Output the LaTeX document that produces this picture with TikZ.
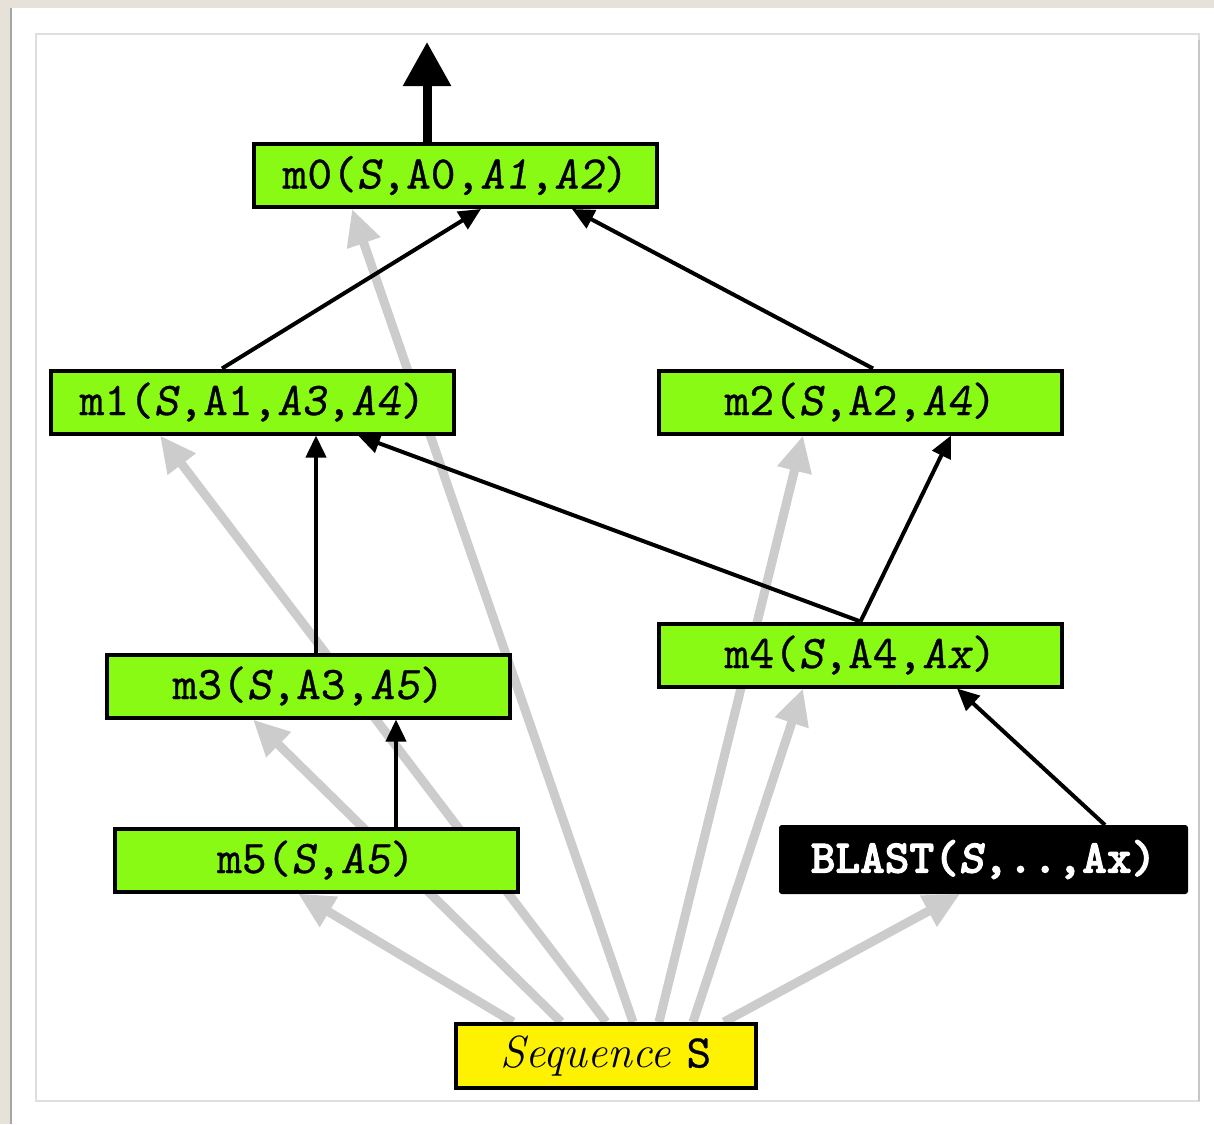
\documentclass[tikz,border=0pt]{standalone}
\usepackage{fontspec}
\setmonofont{lmmono10-regular.otf}[
  SlantedFont=lmmonoslant10-regular.otf,
  BoldFont=lmmonolt10-bold.otf,
  BoldSlantedFont=lmmonolt10-boldoblique.otf,
  UprightFeatures={FakeBold=0.6},
  SlantedFeatures={FakeBold=0.6},
  BoldFeatures={FakeBold=2.2},
  BoldSlantedFeatures={FakeBold=2.2}]
\usetikzlibrary{arrows.meta,calc}
\definecolor{boxgreen}{RGB}{137,250,19}
\definecolor{arrowgray}{RGB}{204,204,204}
\definecolor{framebeige}{RGB}{230,226,218}
\definecolor{panelline}{RGB}{222,222,222}
\newcommand{\obl}[1]{{\slshape #1}}
\pgfdeclarelayer{background}
\pgfsetlayers{background,main}
\tikzset{
  mbox/.style={draw=black, line width=4pt, fill=boxgreen, minimum width=403pt, minimum height=63pt, inner sep=0pt,
    font=\fontsize{47}{47}\selectfont\ttfamily},
  blastbox/.style={draw=black, line width=2pt, fill=black, rounded corners=2pt, minimum width=407pt, minimum height=67pt, inner sep=0pt,
    text=white, font=\fontsize{47}{47}\selectfont\ttfamily\bfseries},
  seqbox/.style={draw=black, line width=4pt, fill=yellow, minimum width=300pt, minimum height=64pt, inner sep=0pt},
  garrow/.style={draw=arrowgray, line width=9pt, -{Triangle[length=36pt,width=33pt]}},
  barrow/.style={draw=black, line width=4pt, -{Triangle[length=22pt,width=20pt]}},
  bigarrow/.style={draw=black, line width=9pt, -{Triangle[length=44pt,width=46pt]}}
}
\begin{document}
\begin{tikzpicture}[x=1pt,y=-1pt]
\useasboundingbox (0,0) rectangle (1214,1124);
\begin{pgfonlayer}{background}
  \fill[white] (0,0) rectangle (1214,1124);
  \fill[framebeige] (0,0) rectangle (1214,8);
  \fill[framebeige] (0,0) rectangle (11,1124);
  \draw[gray!70, line width=1.5pt] (11,8) -- (11,1124);
  \draw[panelline, line width=2pt] (36,34) rectangle (1199,1101);
  \draw[gray!45, line width=2pt] (1199,40) -- (1199,1101);
\end{pgfonlayer}

\node[mbox] (m0) at (455.5,175.5) {m0(\obl{S},A0,\obl{A1},\obl{A2})};
\node[mbox] (m1) at (252.5,402) {m1(\obl{S},A1,\obl{A3},\obl{A4})};
\node[mbox] (m2) at (860.5,402) {m2(\obl{S},A2,\obl{A4})};
\node[mbox] (m3) at (308.5,686) {m3(\obl{S},A3,\obl{A5})};
\node[mbox] (m4) at (860.5,655) {m4(\obl{S},A4,\obl{Ax})};
\node[mbox] (m5) at (316,860) {m5(\obl{S},\obl{A5})};
\node[blastbox] (blast) at (983.5,859.5) {BLAST(\obl{S},..,Ax)};
\node[seqbox] (seq) at (606,1056) {\fontsize{45}{45}\selectfont\itshape Sequence \upshape\fontsize{47}{47}\selectfont\ttfamily S};

\coordinate (out) at (427,42);

\begin{pgfonlayer}{background}
  \draw[garrow] ($(seq.north)+(-93,0)$) -- ($(m5.south)+(-18,0)$);
  \draw[garrow] ($(seq.north)+(-45,0)$) -- ($(m3.south)+(-55.5,0)$);
  \draw[garrow] ($(seq.north)+(0,0)$) -- ($(m1.south)+(-92.5,0)$);
  \draw[garrow] ($(seq.north)+(27,0)$) -- ($(m0.south)+(-103.5,0)$);
  \draw[garrow] ($(seq.north)+(53,0)$) -- ($(m2.south)+(-57.5,0)$);
  \draw[garrow] ($(seq.north)+(87,0)$) -- ($(m4.south)+(-57.5,0)$);
  \draw[garrow] ($(seq.north)+(118,0)$) -- ($(blast.south)+(-23.5,0)$);
\end{pgfonlayer}

\draw[bigarrow] ($(m0.north)+(-28.5,0)$) -- (out);
\draw[barrow] ($(m1.north)+(-30.5,0)$) -- ($(m0.south)+(25.5,0)$);
\draw[barrow] ($(m2.north)+(12.5,0)$) -- ($(m0.south)+(116.5,0)$);
\draw[barrow] ($(m3.north)+(7.5,0)$) -- ($(m1.south)+(63.5,0)$);
\draw[barrow] (m4.north) -- ($(m1.south)+(105.5,0)$);
\draw[barrow] (m4.north) -- ($(m2.south)+(90.5,0)$);
\draw[barrow] ($(m5.north)+(80,0)$) -- ($(m3.south)+(87.5,0)$);
\draw[barrow] ($(blast.north)+(121.5,0)$) -- ($(m4.south)+(96.5,0)$);
\end{tikzpicture}
\end{document}
